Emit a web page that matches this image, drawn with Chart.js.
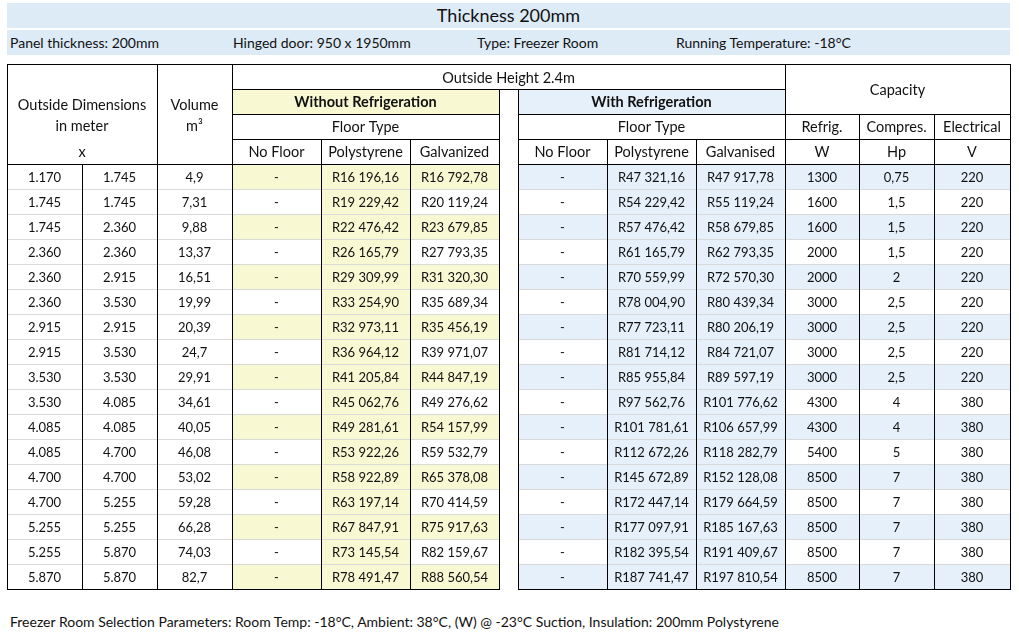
<!DOCTYPE html>
<html>
<head>
<meta charset="utf-8">
<title>Thickness 200mm</title>
<script src="https://cdn.jsdelivr.net/npm/chart.js@4.4.1/dist/chart.umd.min.js"></script>
<style>
  body { margin: 0; background: #fff; font-family: Lato, sans-serif; color: #111; }
  .band { position: absolute; left: 7px; width: 1003px; height: 25px; line-height: 25px; background: #ddebf7; }
  #title { top: 3px; text-align: center; font-size: 18px; }
  #info { top: 30px; font-size: 14px; }
  #info span { position: absolute; top: 0; }
  #footer { position: absolute; left: 10px; top: 612px; font-size: 14px; line-height: 20px; }
  #wrap { position: absolute; left: 0; top: 58px; }
</style>
</head>
<body>
<div id="title" class="band">Thickness 200mm</div>
<div id="info" class="band">
  <span style="left:3px">Panel thickness: 200mm</span>
  <span style="left:226px">Hinged door: 950 x 1950mm</span>
  <span style="left:470px">Type: Freezer Room</span>
  <span style="left:669px">Running Temperature: -18°C</span>
</div>
<div id="wrap"><canvas id="priceTable" width="1019" height="540"></canvas></div>
<div id="footer">Freezer Room Selection Parameters: Room Temp: -18°C, Ambient: 38°C, (W) @ -23°C Suction, Insulation: 200mm Polystyrene</div>
<script>
// table values, one entry per room size
const dimA = [1.170, 1.745, 1.745, 2.360, 2.360, 2.360, 2.915, 2.915, 3.530, 3.530, 4.085, 4.085, 4.700, 4.700, 5.255, 5.255, 5.870];
const dimB = [1.745, 1.745, 2.360, 2.360, 2.915, 3.530, 2.915, 3.530, 3.530, 4.085, 4.085, 4.700, 4.700, 5.255, 5.255, 5.870, 5.870];
const volume = [4.9, 7.31, 9.88, 13.37, 16.51, 19.99, 20.39, 24.7, 29.91, 34.61, 40.05, 46.08, 53.02, 59.28, 66.28, 74.03, 82.7];
const polyNoRefrig = [16196.16, 19229.42, 22476.42, 26165.79, 29309.99, 33254.90, 32973.11, 36964.12, 41205.84, 45062.76, 49281.61, 53922.26, 58922.89, 63197.14, 67847.91, 73145.54, 78491.47];
const galvNoRefrig = [16792.78, 20119.24, 23679.85, 27793.35, 31320.30, 35689.34, 35456.19, 39971.07, 44847.19, 49276.62, 54157.99, 59532.79, 65378.08, 70414.59, 75917.63, 82159.67, 88560.54];
const polyRefrig = [47321.16, 54229.42, 57476.42, 61165.79, 70559.99, 78004.90, 77723.11, 81714.12, 85955.84, 97562.76, 101781.61, 112672.26, 145672.89, 172447.14, 177097.91, 182395.54, 187741.47];
const galvRefrig = [47917.78, 55119.24, 58679.85, 62793.35, 72570.30, 80439.34, 80206.19, 84721.07, 89597.19, 101776.62, 106657.99, 118282.79, 152128.08, 179664.59, 185167.63, 191409.67, 197810.54];
const refrigW = [1300, 1600, 1600, 2000, 2000, 3000, 3000, 3000, 3000, 4300, 4300, 5400, 8500, 8500, 8500, 8500, 8500];
const compressorHp = [0.75, 1.5, 1.5, 1.5, 2, 2.5, 2.5, 2.5, 2.5, 4, 4, 5, 7, 7, 7, 7, 7];
const electricalV = [220, 220, 220, 220, 220, 220, 220, 220, 220, 380, 380, 380, 380, 380, 380, 380, 380];
const headerRows = ['Outside Height', 'Refrigeration', 'Floor Type', 'Units'];

// layout
const colWidths = [75, 75, 75, 89, 89, 89, 19, 89, 89, 89, 74, 75, 76];
const colEdges = colWidths.reduce((a, w) => (a.push(a[a.length - 1] + w), a), [0]);
const YELLOW = '#f8f8d2';
const BLUE = '#e6f0fa';
const GRID = '#d9d9d9';
const INK = '#111';
const HEAD_FONT = '14.5px Lato';
const BODY_FONT = '13px Lato';

const dim = v => v.toFixed(3);
const comma = v => String(v).replace('.', ',');
const rand = v => {
  const [i, d] = v.toFixed(2).split('.');
  return 'R' + i.replace(/\B(?=(\d{3})+(?!\d))/g, ' ') + ',' + d;
};
const dash = () => '-';

const bodyCols = [
  { col: 0, values: dimA, fmt: dim },
  { col: 1, values: dimB, fmt: dim },
  { col: 2, values: volume, fmt: comma },
  { col: 3, values: null, fmt: dash, shade: YELLOW, every: 2 },
  { col: 4, values: polyNoRefrig, fmt: rand, shade: YELLOW, every: 1 },
  { col: 5, values: galvNoRefrig, fmt: rand, shade: YELLOW, every: 2 },
  { col: 7, values: null, fmt: dash, shade: BLUE, every: 2 },
  { col: 8, values: polyRefrig, fmt: rand, shade: BLUE, every: 1 },
  { col: 9, values: galvRefrig, fmt: rand, shade: BLUE, every: 1 },
  { col: 10, values: refrigW, fmt: String, shade: BLUE, every: 2 },
  { col: 11, values: compressorHp, fmt: comma, shade: BLUE, every: 2 },
  { col: 12, values: electricalV, fmt: String, shade: BLUE, every: 2 },
];

const headerText = [
  { t: 'Outside Height 2.4m', c: [3, 10], r: 0.05 },
  { t: 'Without Refrigeration', c: [3, 6], r: 1, bold: true },
  { t: 'With Refrigeration', c: [7, 10], r: 1, bold: true },
  { t: 'Capacity', c: [10, 13], r: 0.52 },
  { t: 'Outside Dimensions', c: [0, 2], r: 1.1 },
  { t: 'in meter', c: [0, 2], r: 1.94 },
  { t: 'x', c: [0, 2], r: 3 },
  { t: 'Volume', c: [2, 3], r: 1.1 },
  { t: 'm³', c: [2, 3], r: 1.94 },
  { t: 'Floor Type', c: [3, 6], r: 2 },
  { t: 'Floor Type', c: [7, 10], r: 2 },
  { t: 'Refrig.', c: [10, 11], r: 2 },
  { t: 'Compres.', c: [11, 12], r: 2 },
  { t: 'Electrical', c: [12, 13], r: 2 },
  { t: 'No Floor', c: [3, 4], r: 3 },
  { t: 'Polystyrene', c: [4, 5], r: 3 },
  { t: 'Galvanized', c: [5, 6], r: 3 },
  { t: 'No Floor', c: [7, 8], r: 3 },
  { t: 'Polystyrene', c: [8, 9], r: 3 },
  { t: 'Galvanised', c: [9, 10], r: 3 },
  { t: 'W', c: [10, 11], r: 3 },
  { t: 'Hp', c: [11, 12], r: 3 },
  { t: 'V', c: [12, 13], r: 3 },
];

const nHead = headerRows.length;
const nRows = nHead + dimA.length;
const labels = headerRows.concat(dimA.map((v, i) => 'row ' + (i + 1)));

// borders: [row edge, from col edge, to col edge] and [col edge, from row edge, to row edge]
const hLines = [[0, 0, 13], [1, 3, 10], [2, 3, 6], [2, 7, 13], [3, 3, 6], [3, 7, 13],
  [nHead, 0, 6], [nHead, 7, 13], [nRows, 0, 6], [nRows, 7, 13]];
const vLines = [[0, 0, nRows], [1, nHead, nRows], [2, 0, nRows], [3, 0, nRows], [4, 3, nRows],
  [5, 3, nRows], [6, 1, nRows], [7, 1, nRows], [8, 3, nRows], [9, 3, nRows], [10, 0, nRows],
  [11, 2, nRows], [12, 2, nRows], [13, 0, nRows]];

const span = (a, b) => [colEdges[a], colEdges[b]];

const datasets = bodyCols.filter(b => b.shade).map(b => ({
  label: 'col ' + b.col,
  data: labels.map((l, r) => r < nHead ? null : span(b.col, b.col + 1)),
  backgroundColor: labels.map((l, r) => (r - nHead) % b.every === 0 ? b.shade : 'rgba(0,0,0,0)'),
}));
datasets.push({ label: 'without', data: labels.map((l, r) => r === 1 ? span(3, 6) : null), backgroundColor: YELLOW });
datasets.push({ label: 'with', data: labels.map((l, r) => r === 1 ? span(7, 10) : null), backgroundColor: BLUE });

const tablePlugin = {
  id: 'tableGrid',
  afterDatasetsDraw(chart) {
    const { ctx, scales: { x, y } } = chart;
    const p0 = y.getPixelForValue(0);
    const step = y.getPixelForValue(1) - p0;
    const rowEdge = k => p0 + (k - 0.5) * step;
    const rowMid = r => p0 + r * step;
    const colX = e => x.getPixelForValue(colEdges[e]);
    const crisp = v => Math.floor(v) + 0.5;

    ctx.save();
    ctx.lineWidth = 1;
    const hLine = (k, a, b, color) => {
      ctx.strokeStyle = color;
      ctx.beginPath();
      ctx.moveTo(Math.floor(colX(a)), crisp(rowEdge(k)));
      ctx.lineTo(Math.floor(colX(b)) + 1, crisp(rowEdge(k)));
      ctx.stroke();
    };
    for (let k = nHead + 1; k < nRows; k++) {
      hLine(k, 0, 6, GRID);
      hLine(k, 7, 13, GRID);
    }
    hLines.forEach(([k, a, b]) => hLine(k, a, b, '#000'));
    ctx.strokeStyle = '#000';
    vLines.forEach(([e, a, b]) => {
      ctx.beginPath();
      ctx.moveTo(crisp(colX(e)), Math.floor(rowEdge(a)));
      ctx.lineTo(crisp(colX(e)), Math.floor(rowEdge(b)) + 1);
      ctx.stroke();
    });

    ctx.fillStyle = INK;
    ctx.textAlign = 'center';
    ctx.textBaseline = 'middle';
    headerText.forEach(h => {
      ctx.font = (h.bold ? 'bold ' : '') + HEAD_FONT;
      ctx.fillText(h.t, (colX(h.c[0]) + colX(h.c[1])) / 2, rowMid(h.r) + 1);
    });
    ctx.font = BODY_FONT;
    bodyCols.forEach(b => {
      const cx = (colX(b.col) + colX(b.col + 1)) / 2;
      dimA.forEach((v, i) => {
        ctx.fillText(b.fmt(b.values ? b.values[i] : null), cx, rowMid(nHead + i) + 1);
      });
    });
    ctx.restore();
  }
};

new Chart(document.getElementById('priceTable'), {
  type: 'bar',
  data: { labels, datasets },
  options: {
    indexAxis: 'y',
    responsive: false,
    devicePixelRatio: 1,
    animation: false,
    layout: { padding: { left: 7, right: 9, top: 6, bottom: 9 } },
    datasets: {
      bar: { grouped: false, barPercentage: 1, categoryPercentage: 1, borderWidth: 0, inflateAmount: 0 }
    },
    scales: {
      x: { type: 'linear', min: 0, max: colEdges[colEdges.length - 1], display: false },
      y: { type: 'category', offset: true, display: false }
    },
    plugins: { legend: { display: false }, tooltip: { enabled: false } }
  },
  plugins: [tablePlugin]
});
</script>
</body>
</html>
